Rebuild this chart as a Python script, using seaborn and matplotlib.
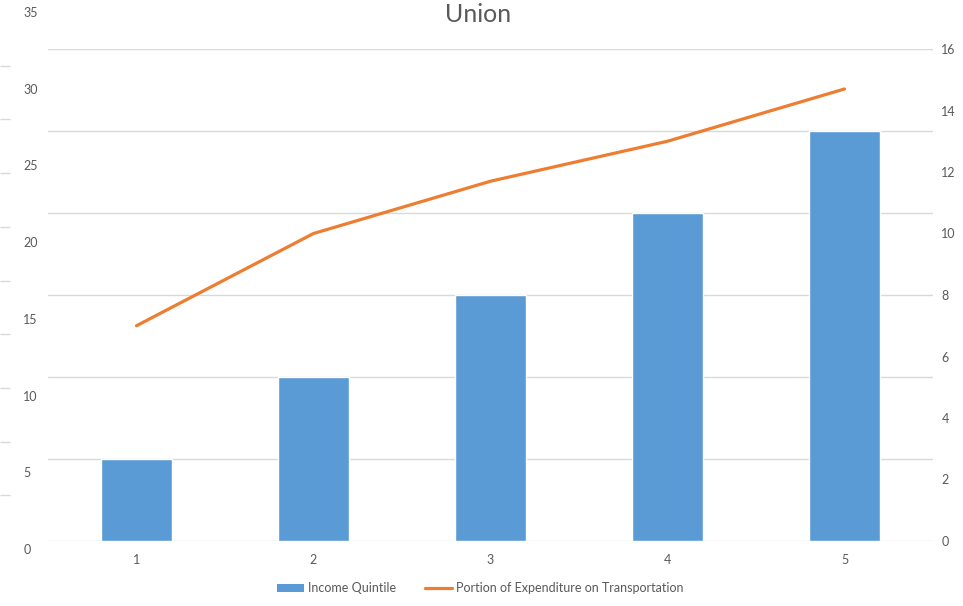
import numpy as np
import pandas as pd
import matplotlib
matplotlib.use("Agg")
import matplotlib.pyplot as plt
from matplotlib.patches import Patch
from matplotlib.lines import Line2D
import seaborn as sns

# Data
quintiles = ["1", "2", "3", "4", "5"]
income_quintile = [1, 2, 3, 4, 5]
transport_share = [7.0, 10.0, 11.7, 13.0, 14.7]
left_ticks = [0, 5, 10, 15, 20, 25, 30, 35]
right_ticks = [0, 2, 4, 6, 8, 10, 12, 14, 16]

BLUE = "#5B9BD5"
ORANGE = "#ED7D31"
GRID = "#D9D9D9"
TEXT = "#595959"

sns.set_theme(style="white")
plt.rcParams["font.family"] = ["Lato", "DejaVu Sans"]

W, H = 963, 606
fig = plt.figure(figsize=(W / 100, H / 100), dpi=100)

def px_rect(x0, y0, x1, y1):
    return [x0 / W, 1 - y1 / H, (x1 - x0) / W, (y1 - y0) / H]

# Main plotting area
ax = fig.add_axes(px_rect(48, 49, 933, 541))
df = pd.DataFrame({"quintile": quintiles, "value": income_quintile})
sns.barplot(data=df, x="quintile", y="value", color=BLUE, saturation=1,
            width=0.4, ax=ax, zorder=3)
ax.set_xlim(-0.5, len(quintiles) - 0.5)
ax.set_ylim(0, 6)
ax.set_yticks(np.arange(0, 7, 1))
ax.set_yticklabels([])
ax.yaxis.grid(True, color=GRID, linewidth=1, zorder=0)
ax.set_axisbelow(True)
for s in ax.spines.values():
    s.set_visible(False)
ax.set_xlabel("")
ax.set_ylabel("")
ax.tick_params(axis="x", length=0, pad=9, labelsize=9, labelcolor=TEXT)
ax.tick_params(axis="y", length=0)

# Secondary axis with the transportation share
ax2 = ax.twinx()
sns.lineplot(x=np.arange(len(quintiles)), y=transport_share, color=ORANGE,
             linewidth=2.3, ax=ax2, solid_capstyle="round")
ax2.set_ylim(0, 16)
ax2.set_yticks(right_ticks)
ax2.set_yticklabels([str(t) for t in right_ticks])
ax2.tick_params(axis="y", length=0, pad=6, labelsize=9, labelcolor=TEXT)
for s in ax2.spines.values():
    s.set_visible(False)
ax2.grid(False)

# Outer scale on the far left
axl = fig.add_axes(px_rect(0, 12, 10, 549))
axl.set_ylim(0, 35)
axl.set_xticks([])
axl.patch.set_visible(False)
for s in axl.spines.values():
    s.set_visible(False)
axl.yaxis.tick_right()
axl.set_yticks(left_ticks)
axl.set_yticklabels([str(t) for t in left_ticks])
axl.set_yticks(np.arange(0, 35.01, 3.5), minor=True)
axl.tick_params(axis="y", which="major", length=0, pad=9.5, labelsize=9,
                labelcolor=TEXT)
axl.tick_params(axis="y", which="minor", direction="in", length=7.5,
                width=1, color=GRID)

# Title
fig.text(478 / W, 1 - 15 / H, "Union", ha="center", va="center",
         fontsize=18, color=TEXT)

# Legend
handles = [Patch(facecolor=BLUE, edgecolor="none"),
           Line2D([0], [0], color=ORANGE, linewidth=2.3)]
labels = ["Income Quintile", "Portion of Expenditure on Transportation"]
fig.legend(handles, labels, loc="center", bbox_to_anchor=(480 / W, 1 - 588 / H),
           ncol=2, frameon=False, fontsize=9, labelcolor=TEXT,
           handlelength=2.2, handleheight=0.6, handletextpad=0.3,
           columnspacing=2.3)

fig.savefig("out.png", dpi=100)
